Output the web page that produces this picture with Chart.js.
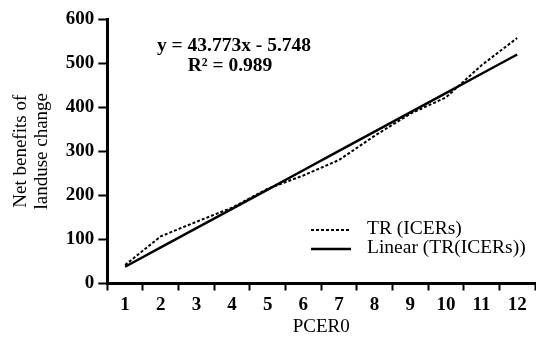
<!DOCTYPE html>
<html>
<head>
<meta charset="utf-8">
<script src="https://cdn.jsdelivr.net/npm/chart.js@4.4.0/dist/chart.umd.min.js"></script>
<style>
  html, body { margin: 0; padding: 0; background: #fff; }
  #wrap { width: 536px; height: 341px; }
</style>
</head>
<body>
<div id="wrap"><canvas id="pcerChart" width="536" height="341"></canvas></div>
<script>
// data
const categories = ["1", "2", "3", "4", "5", "6", "7", "8", "9", "10", "11", "12"];
const trValues = [42, 107, 140, 172, 215, 245, 280, 335, 385, 422, 495, 557];
const slope = 43.773;
const intercept = -5.748;
const yTicks = [0, 100, 200, 300, 400, 500, 600];

// trend line from the printed equation
const linearValues = categories.map((c, i) => slope * (i + 1) + intercept);

const serif = "'Liberation Serif', 'Times New Roman', serif";

// equation text + legend drawn in the plot area
const annotations = {
    id: "annotations",
    afterDraw(chart) {
        const ctx = chart.ctx;
        ctx.save();
        ctx.fillStyle = "#000";
        ctx.textAlign = "center";
        ctx.textBaseline = "middle";
        ctx.font = "bold 19.5px " + serif;
        ctx.fillText("y = 43.773x - 5.748", 234, 46);
        ctx.fillText("R\u00B2 = 0.989", 230, 66);

        // legend
        ctx.textAlign = "left";
        ctx.font = "19.5px " + serif;
        ctx.lineWidth = 2;
        ctx.strokeStyle = "#000";
        ctx.setLineDash([3, 2]);
        ctx.beginPath();
        ctx.moveTo(311, 230);
        ctx.lineTo(351, 230);
        ctx.stroke();
        ctx.setLineDash([]);
        ctx.lineWidth = 2.5;
        ctx.beginPath();
        ctx.moveTo(311, 249);
        ctx.lineTo(351, 249);
        ctx.stroke();
        ctx.fillText("TR (ICERs)", 367, 229);
        ctx.fillText("Linear (TR(ICERs))", 367, 248);
        ctx.restore();
    }
};

document.addEventListener("DOMContentLoaded", function () {
    const canvas = document.getElementById("pcerChart").getContext("2d");

    const pcerChart = new Chart(canvas, {
        type: "line",
        data: {
            labels: categories,
            datasets: [
                {
                    label: "TR (ICERs)",
                    data: trValues,
                    borderColor: "#000",
                    borderWidth: 2,
                    borderDash: [3, 2],
                    pointRadius: 0,
                    tension: 0,
                    fill: false,
                },
                {
                    label: "Linear (TR(ICERs))",
                    data: linearValues,
                    borderColor: "#000",
                    borderWidth: 2.5,
                    pointRadius: 0,
                    tension: 0,
                    fill: false,
                },
            ],
        },
        options: {
            responsive: false,
            animation: false,
            layout: { padding: { top: 19, right: 1, left: 11, bottom: 6.5 } },
            plugins: {
                legend: { display: false },
                tooltip: { enabled: false },
            },
            scales: {
                x: {
                    type: "category",
                    offset: true,
                    border: { color: "#000", width: 3 },
                    grid: {
                        offset: true,
                        drawOnChartArea: false,
                        drawTicks: true,
                        tickLength: 7,
                        tickWidth: 2,
                        tickColor: "#000",
                    },
                    ticks: {
                        color: "#000",
                        font: { family: serif, size: 19, weight: "bold" },
                        padding: 3,
                        maxRotation: 0,
                    },
                    title: {
                        display: true,
                        text: "PCER0",
                        color: "#000",
                        font: { family: serif, size: 19, lineHeight: 0.8 },
                        padding: { top: 0, bottom: 0 },
                    },
                },
                y: {
                    min: 0,
                    max: 600,
                    afterBuildTicks: (axis) => {
                        axis.ticks = yTicks.map((v) => ({ value: v }));
                    },
                    border: { color: "#000", width: 3 },
                    grid: {
                        drawOnChartArea: false,
                        drawTicks: true,
                        tickLength: 9,
                        tickWidth: 2,
                        tickColor: "#000",
                    },
                    ticks: {
                        color: "#000",
                        font: { family: serif, size: 19, weight: "bold" },
                        padding: 4,
                    },
                    title: {
                        display: true,
                        text: ["Net benefits of", "landuse change"],
                        color: "#000",
                        font: { family: serif, size: 19, lineHeight: 1.1 },
                        padding: { top: 0, bottom: 9 },
                    },
                },
            },
        },
        plugins: [annotations],
    });
});
</script>
</body>
</html>
